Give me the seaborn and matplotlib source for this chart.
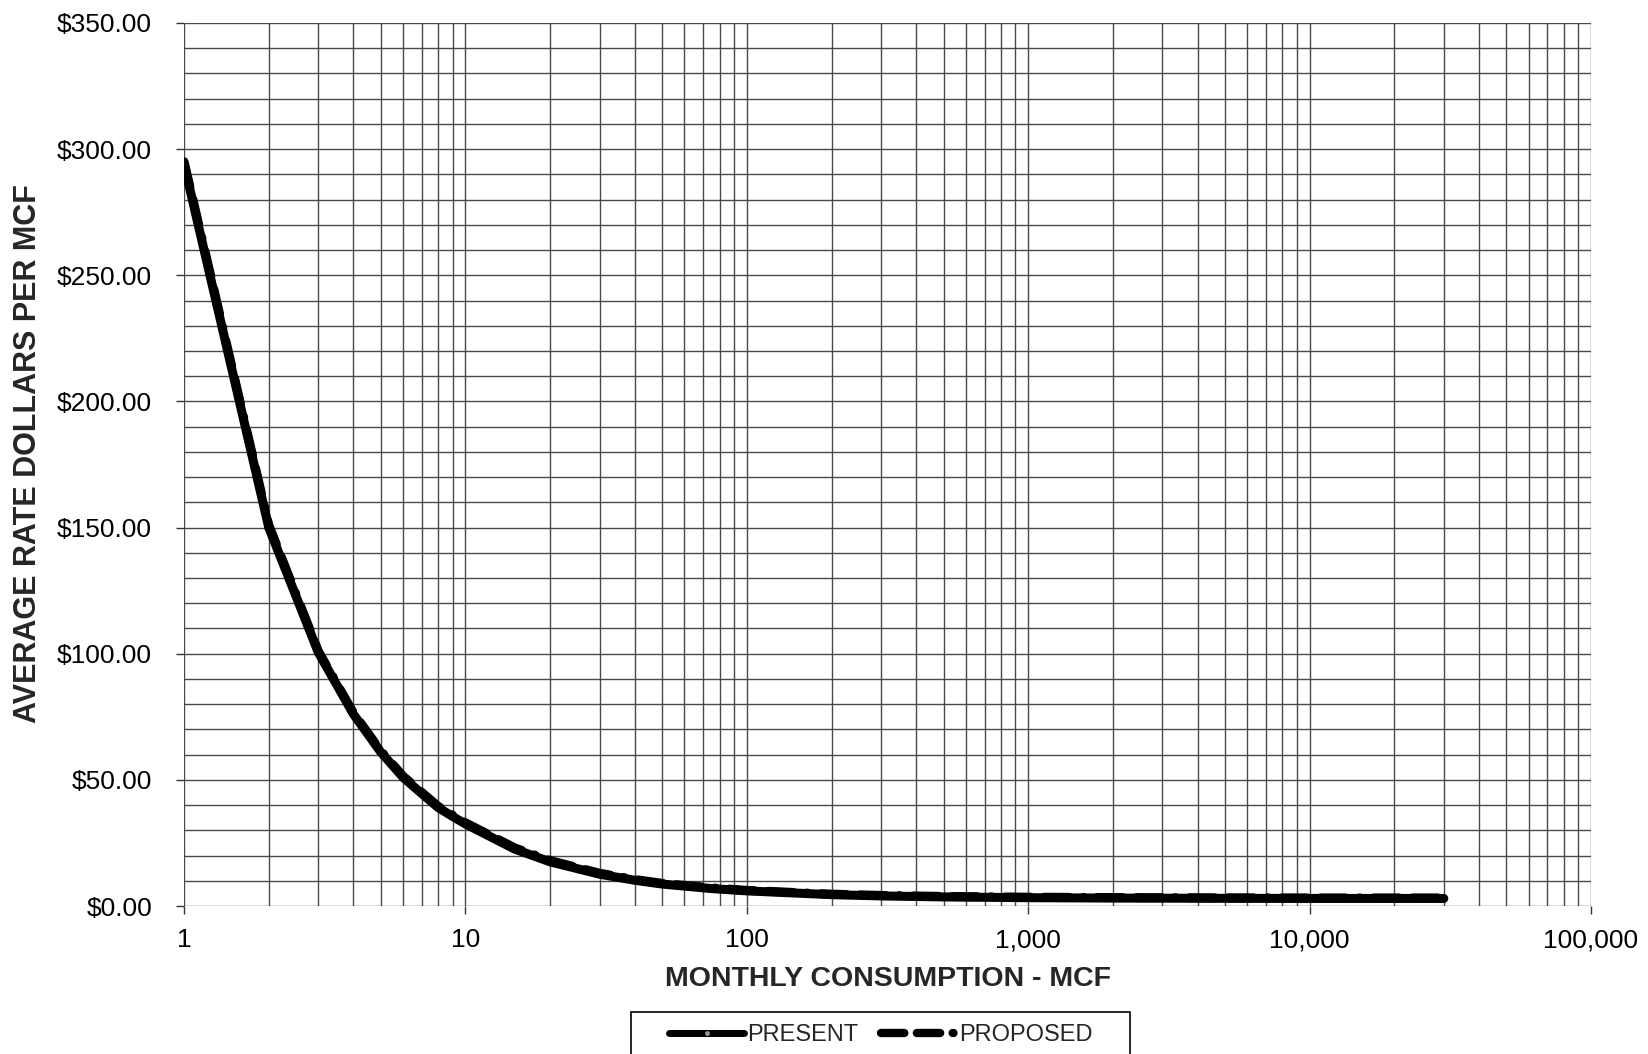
import numpy as np
import pandas as pd
import matplotlib
matplotlib.use("Agg")
import matplotlib.pyplot as plt
import matplotlib.ticker as mticker
from matplotlib.lines import Line2D
from matplotlib.patches import Rectangle
import seaborn as sns

# Monthly consumption (MCF) and average rate ($ per MCF)
consumption = [1, 2, 3, 4, 5, 6, 7, 8, 9, 10, 15, 20, 30, 40, 50, 75,
               100, 200, 300, 500, 1000, 2000, 5000, 10000, 20000, 30000]
present_rate = [294.0, 150.0, 100.5, 76.0, 61.0, 51.0, 44.5, 39.0, 35.5, 32.5,
                22.5, 17.5, 12.6, 10.2, 8.7, 6.9, 6.0, 4.5, 4.0, 3.6,
                3.3, 3.15, 3.05, 3.0, 3.0, 3.0]
proposed_rate = [295.0, 151.0, 101.0, 76.5, 61.5, 51.5, 45.0, 39.5, 36.0, 33.0,
                 23.0, 18.0, 13.0, 10.5, 9.0, 7.2, 6.2, 4.7, 4.2, 3.8,
                 3.5, 3.35, 3.25, 3.2, 3.2, 3.2]
series_names = ["PRESENT", "PROPOSED"]

df = pd.DataFrame({
    "consumption": consumption * 2,
    "rate": present_rate + proposed_rate,
    "series": [series_names[0]] * len(consumption) + [series_names[1]] * len(consumption),
})

sns.set_theme(style="white")
plt.rcParams["font.family"] = ["Liberation Sans", "DejaVu Sans"]

fig = plt.figure(figsize=(16.48, 10.54), dpi=100)
ax = fig.add_axes([0.1117, 0.1404, 0.9654 - 0.1117, 0.9782 - 0.1404])

dash_pattern = (2.8, 1.5, 2.8, 1.5, 0.1, 1.5)
sns.lineplot(data=df, x="consumption", y="rate", style="series", hue="series",
             palette={"PRESENT": "black", "PROPOSED": "black"},
             dashes={"PRESENT": "", "PROPOSED": dash_pattern},
             linewidth=6.5, ax=ax, legend=False, zorder=5)
for ln in ax.get_lines():
    ln.set_dash_capstyle("round")
    ln.set_solid_capstyle("round")

ax.set_xscale("log")
ax.set_xlim(1, 100000)
ax.set_ylim(0, 350)

# grid: every log sub-decade vertically, every $10 horizontally
grid_kw = dict(color="#4a4a4a", linewidth=1.0, zorder=1)
for dec in range(5):
    for m in range(1, 10):
        ax.axvline(m * 10 ** dec, **grid_kw)
ax.axvline(100000, **grid_kw)
for yv in range(0, 351, 10):
    ax.axhline(yv, **grid_kw)

ax.xaxis.set_major_locator(mticker.FixedLocator([1, 10, 100, 1000, 10000, 100000]))
ax.xaxis.set_minor_locator(mticker.NullLocator())
ax.xaxis.set_major_formatter(mticker.FuncFormatter(lambda v, p: f"{v:,.0f}"))
ax.yaxis.set_major_locator(mticker.MultipleLocator(50))
ax.yaxis.set_major_formatter(mticker.FuncFormatter(lambda v, p: f"${v:,.2f}"))

for s in ax.spines.values():
    s.set_visible(False)
ax.tick_params(axis="both", which="major", direction="out", length=6, width=1,
               color="#333333", labelsize=19, labelcolor="black",
               bottom=True, left=True)
ax.tick_params(axis="y", pad=17)
ax.tick_params(axis="x", pad=10)

ax.set_xlabel("MONTHLY CONSUMPTION - MCF", fontsize=20.5, fontweight="bold", labelpad=10)
ax.set_ylabel("AVERAGE RATE DOLLARS PER MCF", fontsize=22, fontweight="bold")
ax.yaxis.set_label_coords(-0.1005, 0.512)

# legend below the axis, inside an open-bottomed box
handles = [
    Line2D([], [], color="black", linewidth=5, marker="o", markersize=2.5,
           markerfacecolor="#999999", markeredgecolor="#999999",
           markevery=[0, 1], solid_capstyle="round"),
    Line2D([], [], color="black", linewidth=6, linestyle=(0, (2.8, 1.5, 2.8, 1.5, 0.1, 10)),
           dash_capstyle="round"),
]
leg = fig.legend(handles, series_names, loc="center",
                 bbox_to_anchor=(0.5345, 0.018), ncol=2, frameon=False,
                 fontsize=17, handlelength=3.2, columnspacing=1.0,
                 handletextpad=0.1, borderpad=0.0, borderaxespad=0.0,
                 bbox_transform=fig.transFigure)
fig.patches.append(Rectangle((0.3827, -0.02), 0.6856 - 0.3827, 0.0599,
                             transform=fig.transFigure, fill=False,
                             edgecolor="black", linewidth=1.2))

fig.savefig("out.png", dpi=100, facecolor="white")
